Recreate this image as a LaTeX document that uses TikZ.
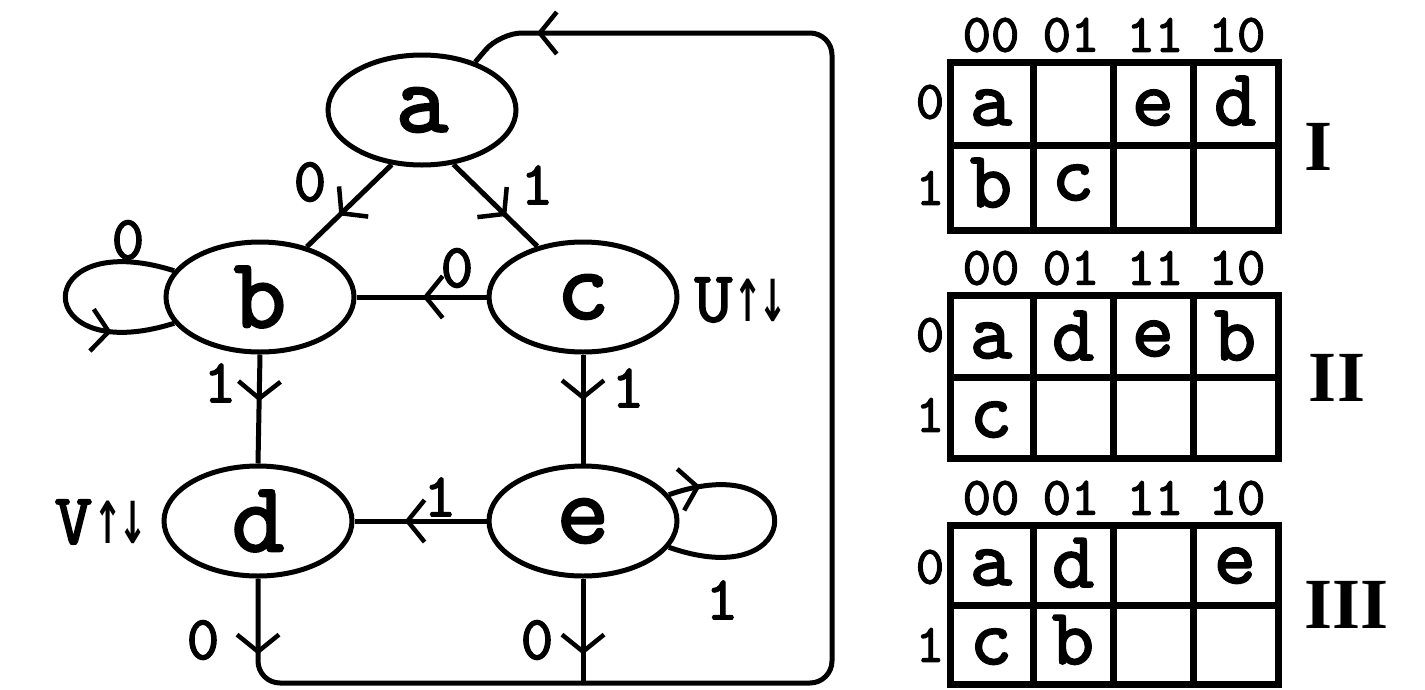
\documentclass[tikz,border=0pt]{standalone}
\usepackage{fontspec}
\usepackage{graphicx}
\newfontfamily\tyfont[FakeBold=2.2]{lmmono10-regular.otf}
\newfontfamily\romfont{Liberation Serif}
\newfontfamily\arrfont{DejaVu Sans}
\usetikzlibrary{shapes.geometric,arrows.meta,decorations.markings}
\tikzset{
  barb/.tip={Straight Barb[length=17pt,width=42pt,line width=4.5pt]},
  state/.style={ellipse,draw,line width=5pt,minimum width=188pt,minimum height=110pt,inner sep=0pt,font=\tyfont\fontsize{100}{100}\selectfont},
  lbl/.style={inner sep=0pt,font=\tyfont\fontsize{62}{62}\selectfont},
  conn/.style={draw,line width=5pt},
  tipat/.style={postaction={decorate},decoration={markings,mark=at position #1 with {\arrow{barb}}}},
  kcell/.style={inner sep=0pt,anchor=base,font=\tyfont\fontsize{80}{80}\selectfont},
  khdr/.style={inner sep=0pt,font=\tyfont\fontsize{54}{54}\selectfont},
  kroman/.style={inner sep=0pt,font=\romfont\fontsize{72}{72}\selectfont\bfseries},
  kline/.style={line width=7pt},
}
\newcommand{\updn}{\scalebox{0.6}[1]{\arrfont\bfseries\fontsize{58}{58}\selectfont ↑\kern-0.12em↓}}
\begin{document}
\begin{tikzpicture}[x=1pt,y=-1pt,line width=5pt]
\useasboundingbox (0,0) rectangle (1425,689);
% states
\node[state] (a) at (422,110) {a};
\node[state] (b) at (260,297) {b};
\node[state] (c) at (583,297) {c};
\node[state] (d) at (258,521) {d};
\node[state] (e) at (583,521) {e};
% transitions
\draw[conn,tipat=0.62] (a.241) -- (b.47);
\draw[conn,tipat=0.63] (a.300) -- (c.132);
\draw[conn,tipat=0.49] (c.west) -- (b.east);
\draw[conn,tipat=0.43] (b.south) -- (d.north);
\draw[conn,tipat=0.42] (c.south) -- (e.north);
\draw[conn,tipat=0.62] (e.west) -- (d.east);
\draw[conn,tipat=0.75] (b.163) .. controls (29,225) and (29,369) .. (b.197);
\draw[conn,tipat=0.13] (e.17) .. controls (810,445) and (810,597) .. (e.-17);
\coordinate (ej) at (583,683);
\draw[conn,tipat=76pt] (e.south) -- (ej);
\coordinate (bl) at (258,683);
\coordinate (br) at (832,683);
\coordinate (tr) at (832,33);
\coordinate (tl) at (500,33);
\draw[conn,rounded corners=22pt,postaction={decorate},
  decoration={markings,mark=at position 76pt with {\arrow{barb}},mark=at position -72pt with {\arrow{barb}}}]
  (d.south) -- (bl) -- (br) -- (tr) -- (tl) -- (a.42);
% labels
\node[lbl] (l1) at (310,182) {0};
\node[lbl] (l2) at (537,185) {1};
\node[lbl] (l3) at (457,268) {0};
\node[lbl] (l4) at (220,383) {1};
\node[lbl] (l5) at (628,388) {1};
\node[lbl] (l6) at (440,497) {1};
\node[lbl] (l7) at (128,240) {0};
\node[lbl] (l8) at (722,600) {1};
\node[lbl] (l9) at (203,640) {0};
\node[lbl] (l10) at (537,640) {0};
\node[inner sep=0pt,anchor=west,font=\tyfont\fontsize{72}{72}\selectfont] (u) at (692,300) {U\kern1pt\updn};
\node[inner sep=0pt,anchor=east,font=\tyfont\fontsize{72}{72}\selectfont] (v) at (150,522) {V\kern1pt\updn};
% K-maps
\foreach \yt/\ym/\yb in {62/145/230, 295/377/458, 525/605/684} {
  \draw[kline] (950,\yt) rectangle (1278,\yb);
  \draw[kline] (950,\ym) -- (1278,\ym);
  \foreach \xx in {1033,1113,1193} \draw[kline] (\xx,\yt) -- (\xx,\yb);
}
% map I
\node[khdr] (h1a) at (991,35) {00};
\node[khdr] (h1b) at (1071,35) {01};
\node[khdr] (h1c) at (1155,35) {11};
\node[khdr] (h1d) at (1237,35) {10};
\node[khdr] (r1a) at (930,102) {0};
\node[khdr] (r1b) at (930,188) {1};
\node[kcell] (k1aa) at (991,125) {a};
\node[kcell] (k1ac) at (1153,125) {e};
\node[kcell] (k1ad) at (1235,125) {d};
\node[kcell] (k1ba) at (991,207) {b};
\node[kcell] (k1bb) at (1073,200) {c};
\node[kroman] (n1) at (1318,147) {I};
% map II
\node[khdr] (h2a) at (991,268) {00};
\node[khdr] (h2b) at (1071,268) {01};
\node[khdr] (h2c) at (1155,268) {11};
\node[khdr] (h2d) at (1237,268) {10};
\node[khdr] (r2a) at (930,335) {0};
\node[khdr] (r2b) at (930,415) {1};
\node[kcell] (k2aa) at (991,358) {a};
\node[kcell] (k2ab) at (1073,360) {d};
\node[kcell] (k2ac) at (1153,356) {e};
\node[kcell] (k2ad) at (1235,360) {b};
\node[kcell] (k2ba) at (991,437) {c};
\node[kroman] (n2) at (1337,378) {II};
% map III
\node[khdr] (h3a) at (991,498) {00};
\node[khdr] (h3b) at (1071,498) {01};
\node[khdr] (h3c) at (1155,498) {11};
\node[khdr] (h3d) at (1237,498) {10};
\node[khdr] (r3a) at (930,567) {0};
\node[khdr] (r3b) at (930,645) {1};
\node[kcell] (k3aa) at (991,585) {a};
\node[kcell] (k3ab) at (1073,587) {d};
\node[kcell] (k3ad) at (1235,583) {e};
\node[kcell] (k3ba) at (991,664) {c};
\node[kcell] (k3bb) at (1073,664) {b};
\node[kroman] (n3) at (1347,605) {III};
\end{tikzpicture}
\end{document}
